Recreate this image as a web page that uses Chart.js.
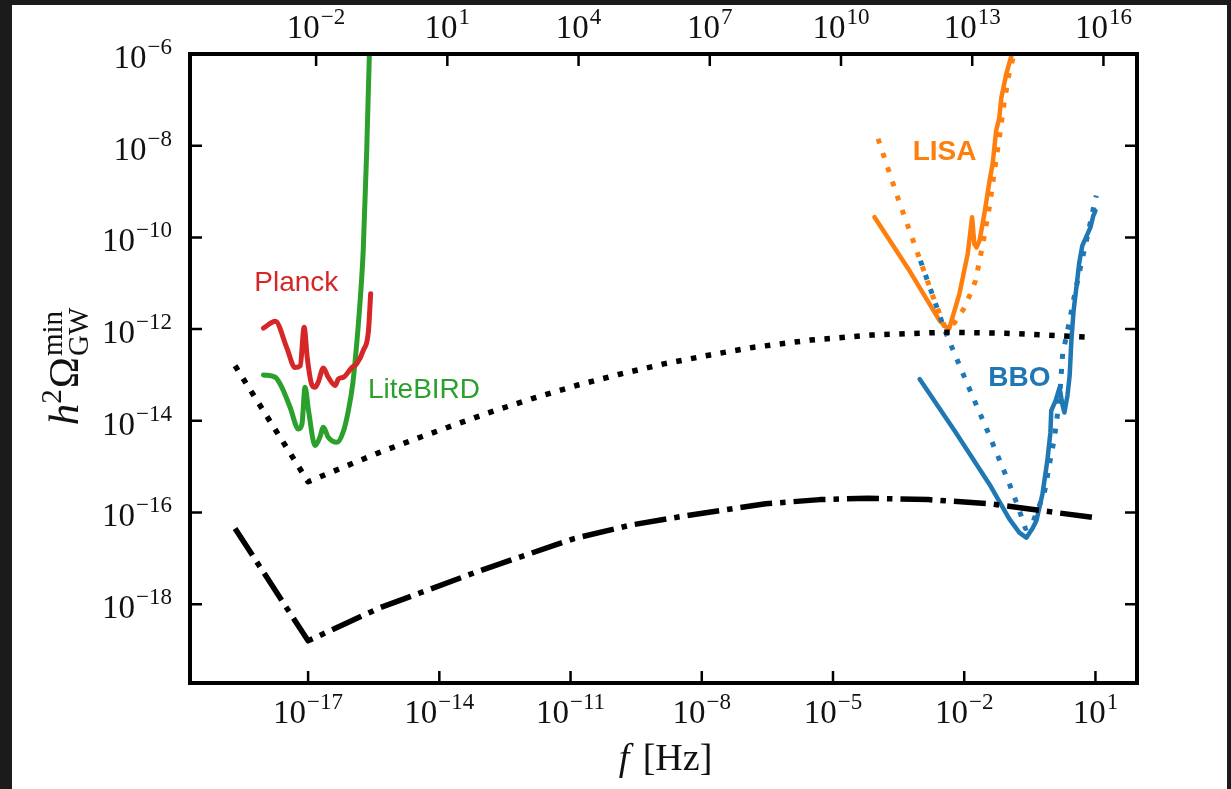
<!DOCTYPE html>
<html lang="en">
<head>
<meta charset="UTF-8">
<title>GW sensitivity curves</title>
<script src="https://cdn.jsdelivr.net/npm/chart.js"></script>
<style>
  html, body { margin: 0; padding: 0; background: #1b1b1b; }
  #wrap { width: 1231px; height: 789px; position: relative; }
</style>
</head>
<body>
<div id="wrap"><canvas id="chart"></canvas></div>
<script>
// every value below is a log10 exponent
const xTicks = [-17, -14, -11, -8, -5, -2, 1];
const topTicks = [-2, 1, 4, 7, 10, 13, 16];
const yTicks = [-18, -16, -14, -12, -10, -8, -6];
const xRange = [-19.7, 1.95];
const topRange = [-4.883, 16.767];
const yRange = [-19.72, -6];

// black dotted
const dottedF = [-18.67, -17.0, -15.42, -14.44, -12.89, -11.86, -10.83, -9.90, -8.87, -7.84, -6.84, -5.51, -4.12, -2.45, -1.06, 0.95];
const dottedOmega = [-12.80, -15.33, -14.71, -14.36, -13.83, -13.51, -13.22, -12.99, -12.76, -12.57, -12.40, -12.24, -12.13, -12.07, -12.09, -12.18];

// black dash-dot
const dashDotF = [-18.67, -17.0, -15.36, -13.07, -10.92, -9.6, -8.41, -6.54, -5.3, -4.21, -2.82, -1.42, 0.95];
const dashDotOmega = [-16.35, -18.80, -18.08, -17.27, -16.57, -16.27, -16.08, -15.81, -15.72, -15.69, -15.72, -15.81, -16.11];

// Planck
const planckF = [-18.02, -17.75, -17.49, -17.30, -17.18, -17.09, -17.02, -16.92, -16.84, -16.77, -16.65, -16.54, -16.38, -16.31, -16.19, -16.00, -15.89, -15.74, -15.62, -15.57];
const planckOmega = [-11.98, -11.83, -12.40, -12.84, -12.80, -11.96, -12.62, -13.20, -13.27, -13.16, -12.85, -13.05, -13.23, -13.09, -13.05, -12.84, -12.76, -12.47, -12.04, -11.23];

// LiteBIRD
const litebirdF = [-18.02, -17.75, -17.60, -17.41, -17.22, -17.14, -17.07, -16.99, -16.84, -16.73, -16.65, -16.54, -16.34, -16.19, -16.08, -15.98, -15.89, -15.81, -15.74, -15.66, -15.60, -15.56];
const litebirdOmega = [-13.00, -13.05, -13.27, -13.71, -14.18, -14.07, -13.27, -13.78, -14.54, -14.36, -14.14, -14.36, -14.47, -14.22, -13.78, -13.20, -12.33, -11.38, -10.29, -8.11, -6.04, -5.27];

// LISA
const lisaF = [-4.05, -3.25, -2.56, -2.41, -2.34, -2.11, -1.92, -1.82, -1.77, -1.72, -1.65, -1.54, -1.42, -1.35, -1.27, -1.20, -1.15, -1.04, -0.93, -0.87];
const lisaOmega = [-9.56, -10.73, -11.82, -11.96, -11.98, -11.23, -10.36, -9.56, -10.14, -10.22, -10.07, -9.49, -8.76, -8.40, -7.67, -7.40, -6.95, -6.44, -6.07, -5.86];
const lisaDotF = [-3.97, -3.52, -3.06, -2.68, -2.43, -2.22, -1.99, -1.86, -1.74, -1.65, -1.54, -1.42, -1.31, -1.19, -1.08, -0.97, -0.83];
const lisaDotOmega = [-7.85, -9.13, -10.36, -11.38, -11.99, -11.86, -11.53, -11.23, -10.94, -10.51, -9.96, -9.31, -8.55, -7.78, -7.02, -6.41, -5.88];

// BBO
const bboF = [-3.02, -2.22, -1.42, -0.97, -0.74, -0.58, -0.44, -0.35, -0.21, -0.10, -0.03, -0.01, 0.09, 0.18, 0.25, 0.29, 0.36, 0.41, 0.45, 0.50, 0.57, 0.63, 0.70, 0.79, 0.89, 0.95, 1.00];
const bboOmega = [-13.09, -14.22, -15.39, -16.14, -16.44, -16.55, -16.35, -16.18, -15.59, -14.87, -14.26, -13.78, -13.56, -13.28, -13.67, -13.82, -13.45, -13.02, -12.25, -11.60, -11.05, -10.55, -10.18, -9.99, -9.77, -9.53, -9.42];
const bboDotF = [-3.00, -2.43, -1.99, -1.47, -0.97, -0.76, -0.60, -0.46, -0.33, -0.17, -0.05, 0.06, 0.18, 0.25, 0.34, 0.52, 0.68, 0.82, 0.93, 1.02];
const bboDotOmega = [-10.51, -12.06, -13.06, -14.22, -15.37, -15.90, -16.35, -16.29, -15.96, -15.59, -14.94, -14.39, -13.50, -12.54, -12.14, -11.27, -10.55, -9.96, -9.46, -9.09];

// curve labels: [text, logF, logOmega]
const curveLabels = [
  ['Planck', -17.27, -11.01],
  ['LiteBIRD', -14.35, -13.34],
  ['LISA', -2.45, -8.15],
  ['BBO', -0.74, -13.08]
];

const RED = '#d62728', GREEN = '#2ca02c', ORANGE = '#ff7f0e', BLUE = '#1f77b4';
const labelColors = [RED, GREEN, ORANGE, BLUE];

function pts(fs, os) {
  return fs.map((f, i) => ({ x: Math.pow(10, f), y: Math.pow(10, os[i]) }));
}

function line(data, color, width, dash, smooth) {
  return {
    data, borderColor: color, borderWidth: width, borderDash: dash || [],
    borderJoinStyle: 'round', borderCapStyle: dash ? 'butt' : 'round',
    cubicInterpolationMode: smooth ? 'monotone' : 'default',
    showLine: true, pointRadius: 0, tension: 0, fill: false
  };
}

const SERIF = '"Liberation Serif", "DejaVu Serif", serif';
const SANS = '"Liberation Sans", Arial, sans-serif';

function powLabel(ctx, e, x, y, align) {
  const base = '10';
  const sup = e < 0 ? '\u2212' + (-e) : String(e);
  ctx.font = '33px ' + SERIF;
  const wb = ctx.measureText(base).width;
  ctx.font = '23px ' + SERIF;
  const ws = ctx.measureText(sup).width;
  const w = wb + 1 + ws;
  const x0 = align === 'center' ? x - w / 2 : x - w;
  ctx.textAlign = 'left';
  ctx.textBaseline = 'alphabetic';
  ctx.font = '33px ' + SERIF;
  ctx.fillText(base, x0, y);
  ctx.font = '23px ' + SERIF;
  ctx.fillText(sup, x0 + wb + 1, y - 14);
}

const decor = {
  id: 'decor',
  beforeDraw(chart) {
    const ctx = chart.ctx;
    ctx.save();
    ctx.fillStyle = '#1b1b1b';
    ctx.fillRect(0, 0, chart.width, chart.height);
    ctx.fillStyle = '#ffffff';
    ctx.fillRect(12, 5, 1215, 784);
    ctx.restore();
  },
  afterDraw(chart) {
    const ctx = chart.ctx;
    const { left, right, top, bottom } = chart.chartArea;
    const sx = chart.scales.x, st = chart.scales.x2, sy = chart.scales.y;
    ctx.save();
    ctx.strokeStyle = '#000';
    ctx.fillStyle = '#111';

    // inward ticks
    ctx.lineWidth = 2.5;
    ctx.beginPath();
    xTicks.forEach(e => {
      const px = sx.getPixelForValue(Math.pow(10, e));
      ctx.moveTo(px, bottom); ctx.lineTo(px, bottom - 12);
    });
    topTicks.forEach(e => {
      const px = st.getPixelForValue(Math.pow(10, e));
      ctx.moveTo(px, top); ctx.lineTo(px, top + 12);
    });
    yTicks.forEach(e => {
      const py = sy.getPixelForValue(Math.pow(10, e));
      ctx.moveTo(left, py); ctx.lineTo(left + 12, py);
      ctx.moveTo(right, py); ctx.lineTo(right - 12, py);
    });
    ctx.stroke();

    // frame
    ctx.lineWidth = 4;
    ctx.strokeRect(left, top, right - left, bottom - top);

    // tick labels
    xTicks.forEach(e => powLabel(ctx, e, sx.getPixelForValue(Math.pow(10, e)), bottom + 40, 'center'));
    topTicks.forEach(e => powLabel(ctx, e, st.getPixelForValue(Math.pow(10, e)), top - 16, 'center'));
    yTicks.forEach(e => powLabel(ctx, e, left - 18, sy.getPixelForValue(Math.pow(10, e)) + 14, 'right'));

    // x axis title: f [Hz]
    ctx.textBaseline = 'alphabetic';
    ctx.textAlign = 'left';
    ctx.font = 'italic 38px ' + SERIF;
    const wf = ctx.measureText('f').width;
    ctx.font = '38px ' + SERIF;
    const wr = ctx.measureText(' [Hz]').width;
    const cx = (left + right) / 2;
    let x0 = cx - (wf + wr) / 2;
    ctx.font = 'italic 38px ' + SERIF;
    ctx.fillText('f', x0, 770);
    ctx.font = '38px ' + SERIF;
    ctx.fillText(' [Hz]', x0 + wf + 4, 770);

    // y axis title: h^2 Omega^min_GW
    ctx.save();
    ctx.translate(78, (top + bottom) / 2 - 2);
    ctx.rotate(-Math.PI / 2);
    ctx.font = 'italic 43px ' + SERIF;
    const wh = ctx.measureText('h').width;
    ctx.font = '29px ' + SERIF;
    const w2 = ctx.measureText('2').width;
    const wmin = ctx.measureText('min').width;
    const wgw = ctx.measureText('GW').width;
    ctx.font = '42px ' + SERIF;
    const wo = ctx.measureText('\u03A9').width;
    const total = wh + w2 + wo + Math.max(wmin, wgw) + 2;
    let p = -total / 2;
    ctx.font = 'italic 43px ' + SERIF;
    ctx.fillText('h', p, 0); p += wh;
    ctx.font = '29px ' + SERIF;
    ctx.fillText('2', p, -17); p += w2 + 1;
    ctx.font = '42px ' + SERIF;
    ctx.fillText('\u03A9', p, 0); p += wo + 1;
    ctx.font = '29px ' + SERIF;
    ctx.fillText('min', p, -16);
    ctx.fillText('GW', p, 10);
    ctx.restore();

    // curve labels
    ctx.textAlign = 'center';
    ctx.textBaseline = 'middle';
    curveLabels.forEach(([txt, f, o], i) => {
      ctx.fillStyle = labelColors[i];
      ctx.font = (i >= 2 ? 'bold ' : '') + '28px ' + SANS;
      ctx.fillText(txt, sx.getPixelForValue(Math.pow(10, f)), sy.getPixelForValue(Math.pow(10, o)));
    });
    ctx.restore();
  }
};

new Chart(document.getElementById('chart'), {
  type: 'scatter',
  data: {
    datasets: [
      line(pts(dottedF, dottedOmega), '#000', 5.5, [5.5, 9.5]),
      line(pts(dashDotF, dashDotOmega), '#000', 5.5, [32, 8, 5.5, 8]),
      line(pts(planckF, planckOmega), RED, 5, null, true),
      line(pts(litebirdF, litebirdOmega), GREEN, 5, null, true),
      line(pts(bboDotF, bboDotOmega), BLUE, 5, [5, 10]),
      line(pts(bboF, bboOmega), BLUE, 4.5),
      line(pts(lisaDotF, lisaDotOmega), ORANGE, 5, [5, 10]),
      line(pts(lisaF, lisaOmega), ORANGE, 4.5)
    ]
  },
  options: {
    responsive: true,
    maintainAspectRatio: false,
    animation: false,
    devicePixelRatio: 1,
    layout: { padding: { left: 190, top: 54, right: 94, bottom: 106 } },
    plugins: { legend: { display: false }, tooltip: { enabled: false } },
    scales: {
      x: { type: 'logarithmic', display: false, bounds: 'data', min: Math.pow(10, xRange[0]), max: Math.pow(10, xRange[1]) },
      x2: { type: 'logarithmic', position: 'top', display: false, bounds: 'data', min: Math.pow(10, topRange[0]), max: Math.pow(10, topRange[1]) },
      y: { type: 'logarithmic', display: false, bounds: 'data', min: Math.pow(10, yRange[0]), max: Math.pow(10, yRange[1]) }
    }
  },
  plugins: [decor]
});
</script>
</body>
</html>
